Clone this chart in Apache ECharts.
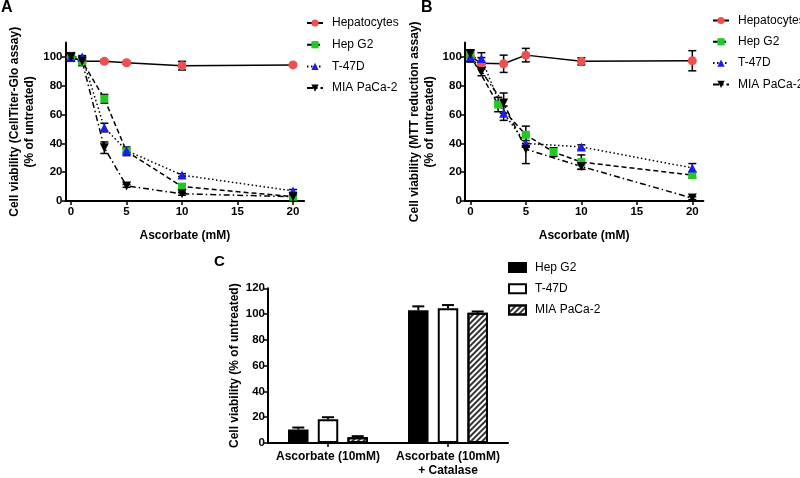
<!DOCTYPE html>
<html>
<head>
<meta charset="utf-8">
<script src="https://cdn.jsdelivr.net/npm/echarts@6/dist/echarts.min.js"></script>
<style>html,body{margin:0;padding:0;background:#fff}#c{width:800px;height:478px}</style>
</head>
<body>
<div id="c"></div>
<script>
// ---------- data ----------
const seriesNames = ['Hepatocytes', 'Hep G2', 'T-47D', 'MIA PaCa-2'];
const xTicksAB = [0, 5, 10, 15, 20];
const yTicksAB = [0, 20, 40, 60, 80, 100];
const yTicksC = [0, 20, 40, 60, 80, 100, 120];

// Panel A (CellTiter-Glo)
const doseA = [0, 1, 3, 5, 10, 20];
const hepatocytesA = [100, 97, 97, 96, 94, 94.5];
const hepatocytesErrA = [1.5, 1, 1, 1, 3, 1];
const hepg2A = [100, 97, 71, 34.5, 10, 3];
const hepg2ErrA = [3, 3, 3, 3, 2, 1];
const t47dA = [100, 100, 51, 35, 18, 7];
const t47dErrA = [1, 1, 3, 1, 1, 1];
const miaA = [100, 97, 37, 10.5, 5, 3];
const miaErrA = [1, 1, 4, 1, 1, 1];

// Panel B (MTT)
const doseHepB = [0, 1, 3, 5, 10, 20];
const hepatocytesB = [100.5, 95.6, 95.3, 101.3, 97, 97.4];
const hepatocytesErrB = [4, 4, 6, 4.7, 2.5, 7];
const doseHepg2B = [0, 2.5, 5, 7.5, 10, 20];
const hepg2B = [101, 67, 46, 34, 27, 18];
const hepg2ErrB = [4, 5, 6, 3, 5, 2];
const doseT47dB = [0, 1, 3, 5, 10, 20];
const t47dB = [100, 99, 61, 40, 37.5, 23];
const t47dErrB = [3, 4, 5, 2, 1.5, 3];
const doseMiaB = [0, 1, 3, 5, 10, 20];
const miaB = [102, 90, 68, 36, 24, 2];
const miaErrB = [3, 3, 7, 10, 2, 1];

// Panel C (bars)
const categoriesC = ['Ascorbate (10mM)', 'Ascorbate (10mM)\n+ Catalase'];
const hepg2C = [10.5, 103];
const hepg2ErrC = [1.5, 3];
const t47dC = [18.5, 104.5];
const t47dErrC = [1.5, 2.5];
const miaC = [4.5, 101];
const miaErrC = [0.8, 1];

// ---------- styles ----------
const FONT = 'Liberation Sans, Arial, sans-serif';
const styles = [
  { symbol: 'circle', size: 9, rotate: 0, color: '#ef4f4f', line: 'solid' },
  { symbol: 'rect', size: 8, rotate: 0, color: '#22c922', line: [5, 3] },
  { symbol: 'triangle', size: 9, rotate: 0, color: '#1c1cee', line: [1.5, 2.5] },
  { symbol: 'triangle', size: 9, rotate: 180, color: '#000000', line: [6, 3, 1.5, 3] }
];

function pairs(xs, ys) { return xs.map((x, i) => [x, ys[i]]); }
function triples(xs, ys, es) { return xs.map((x, i) => [x, ys[i], es[i]]); }

function lineSeries(k, xs, ys, axisIdx) {
  const s = styles[k];
  return {
    type: 'line', name: seriesNames[k], xAxisIndex: axisIdx, yAxisIndex: axisIdx,
    data: pairs(xs, ys), symbol: s.symbol, symbolSize: s.size, symbolRotate: s.rotate,
    itemStyle: { color: s.color },
    lineStyle: { color: '#000', width: 1.5, type: s.line },
    z: 3
  };
}

function errSeries(xs, ys, es, axisIdx) {
  return {
    type: 'custom', xAxisIndex: axisIdx, yAxisIndex: axisIdx, z: 2, silent: true,
    data: triples(xs, ys, es),
    renderItem: function (params, api) {
      const x = api.value(0), y = api.value(1), e = api.value(2);
      const lo = api.coord([x, y - e]), hi = api.coord([x, y + e]);
      const st = { stroke: '#000', lineWidth: 1.5 };
      return { type: 'group', children: [
        { type: 'line', shape: { x1: lo[0], y1: lo[1], x2: hi[0], y2: hi[1] }, style: st },
        { type: 'line', shape: { x1: lo[0] - 4, y1: lo[1], x2: lo[0] + 4, y2: lo[1] }, style: st },
        { type: 'line', shape: { x1: hi[0] - 4, y1: hi[1], x2: hi[0] + 4, y2: hi[1] }, style: st }
      ]};
    }
  };
}

const barOffsets = [-29.7, 0, 29.7];
function barErrSeries(ys, es, k) {
  return {
    type: 'custom', xAxisIndex: 2, yAxisIndex: 2, z: 4, silent: true,
    data: ys.map((y, i) => [i, y, es[i]]),
    renderItem: function (params, api) {
      const i = api.value(0), y = api.value(1), e = api.value(2);
      const b = api.coord([i, y]), t = api.coord([i, y + e]);
      const x = b[0] + barOffsets[k];
      const st = { stroke: '#000', lineWidth: 2 };
      return { type: 'group', children: [
        { type: 'line', shape: { x1: x, y1: b[1], x2: x, y2: t[1] }, style: st },
        { type: 'line', shape: { x1: x - 6, y1: t[1], x2: x + 6, y2: t[1] }, style: st }
      ]};
    }
  };
}

const axisLabelStyle = { color: '#000', fontWeight: 'bold', fontSize: 11.5, fontFamily: FONT };
const nameStyle = { color: '#000', fontWeight: 'bold', fontSize: 12, fontFamily: FONT, lineHeight: 15 };
const axLine = { show: true, onZero: false, lineStyle: { color: '#000', width: 2 } };
const axTick = (vals) => ({ show: true, inside: false, length: 4, lineStyle: { color: '#000', width: 1.5 }, customValues: vals });

function xValAxis(gi) {
  return {
    type: 'value', gridIndex: gi, min: -0.5, max: 21,
    axisLine: axLine, axisTick: axTick(xTicksAB), splitLine: { show: false },
    axisLabel: Object.assign({ customValues: xTicksAB, margin: 5 }, axisLabelStyle),
    name: 'Ascorbate (mM)', nameLocation: 'middle', nameGap: 27, nameTextStyle: nameStyle
  };
}
function yValAxis(gi, title) {
  return {
    type: 'value', gridIndex: gi, min: 0, max: 110,
    axisLine: axLine, axisTick: axTick(yTicksAB), splitLine: { show: false },
    axisLabel: Object.assign({ customValues: yTicksAB, margin: 3 }, axisLabelStyle),
    name: title, nameLocation: 'middle', nameGap: 28, nameTextStyle: nameStyle
  };
}

const decalMia = { symbol: 'rect', symbolSize: 1, dashArrayX: [1, 0], dashArrayY: [1.2, 2], rotation: -Math.PI / 4, color: '#333' };
const legendText = { fontSize: 12, color: '#000', fontFamily: FONT, lineHeight: 14, padding: [0, 0, 0, 4] };

const option = {
  animation: false,
  backgroundColor: '#fff',
  textStyle: { fontFamily: FONT },
  grid: [
    { left: 65.5, top: 42.6, width: 238.6, height: 158.4 },
    { left: 464.8, top: 42.6, width: 238.6, height: 158.4 },
    { left: 268, top: 288.3, width: 240, height: 158.4 }
  ],
  xAxis: [
    xValAxis(0), xValAxis(1),
    {
      type: 'category', gridIndex: 2, data: categoriesC,
      axisLine: { show: true, lineStyle: { color: '#000', width: 2 } },
      axisTick: { show: true, alignWithLabel: true, length: 4, lineStyle: { color: '#000', width: 1.5 } },
      axisLabel: Object.assign({}, axisLabelStyle, { fontSize: 12, lineHeight: 14, margin: 7, interval: 0 })
    }
  ],
  yAxis: [
    yValAxis(0, 'Cell viability (CellTiter-Glo assay)\n(% of untreated)'),
    yValAxis(1, 'Cell viability (MTT reduction assay)\n(% of untreated)'),
    {
      type: 'value', gridIndex: 2, min: 0, max: 120,
      axisLine: axLine, axisTick: axTick(yTicksC), splitLine: { show: false },
      axisLabel: Object.assign({ customValues: yTicksC, margin: 3 }, axisLabelStyle),
      name: 'Cell viability (% of untreated)', nameLocation: 'middle', nameGap: 26, nameTextStyle: nameStyle
    }
  ],
  legend: [
    {
      left: 306, top: 16, padding: 0, orient: 'vertical', itemWidth: 16, itemHeight: 9, itemGap: 7.7,
      data: seriesNames, textStyle: legendText, selectedMode: false
    },
    {
      left: 712, top: 13.5, padding: 0, orient: 'vertical', itemWidth: 16, itemHeight: 9, itemGap: 7.3,
      data: seriesNames, textStyle: legendText, selectedMode: false
    },
    {
      left: 508, top: 260.5, padding: 0, orient: 'vertical', itemWidth: 17, itemHeight: 9, itemGap: 7.3,
      icon: 'rect',
      data: ['Hep G2 ', 'T-47D ', 'MIA PaCa-2 '],
      formatter: (n) => n.trim(),
      textStyle: legendText, selectedMode: false
    }
  ],
  graphic: [
    { type: 'text', left: 1, top: 0, style: { text: 'A', font: 'bold 16px ' + FONT, fill: '#000' } },
    { type: 'text', left: 421, top: 0, style: { text: 'B', font: 'bold 16px ' + FONT, fill: '#000' } },
    { type: 'text', left: 214, top: 254, style: { text: 'C', font: 'bold 15px ' + FONT, fill: '#000' } }
  ],
  series: [
    errSeries(doseA, hepatocytesA, hepatocytesErrA, 0),
    errSeries(doseA, hepg2A, hepg2ErrA, 0),
    errSeries(doseA, t47dA, t47dErrA, 0),
    errSeries(doseA, miaA, miaErrA, 0),
    lineSeries(0, doseA, hepatocytesA, 0),
    lineSeries(1, doseA, hepg2A, 0),
    lineSeries(2, doseA, t47dA, 0),
    lineSeries(3, doseA, miaA, 0),

    errSeries(doseHepB, hepatocytesB, hepatocytesErrB, 1),
    errSeries(doseHepg2B, hepg2B, hepg2ErrB, 1),
    errSeries(doseT47dB, t47dB, t47dErrB, 1),
    errSeries(doseMiaB, miaB, miaErrB, 1),
    lineSeries(0, doseHepB, hepatocytesB, 1),
    lineSeries(1, doseHepg2B, hepg2B, 1),
    lineSeries(2, doseT47dB, t47dB, 1),
    lineSeries(3, doseMiaB, miaB, 1),

    { type: 'bar', name: 'Hep G2 ', xAxisIndex: 2, yAxisIndex: 2, data: hepg2C, barWidth: 20.5, barGap: '45%',
      itemStyle: { color: '#000', borderColor: '#000', borderWidth: 1.5 } },
    { type: 'bar', name: 'T-47D ', xAxisIndex: 2, yAxisIndex: 2, data: t47dC, barWidth: 20.5, barGap: '45%',
      itemStyle: { color: '#fff', borderColor: '#000', borderWidth: 2 } },
    { type: 'bar', name: 'MIA PaCa-2 ', xAxisIndex: 2, yAxisIndex: 2, data: miaC, barWidth: 20.5, barGap: '45%',
      itemStyle: { color: '#fff', borderColor: '#000', borderWidth: 2, decal: decalMia } },
    barErrSeries(hepg2C, hepg2ErrC, 0),
    barErrSeries(t47dC, t47dErrC, 1),
    barErrSeries(miaC, miaErrC, 2)
  ]
};

const chart = echarts.init(document.getElementById('c'), null, { renderer: 'canvas' });
chart.setOption(option);
</script>
</body>
</html>
